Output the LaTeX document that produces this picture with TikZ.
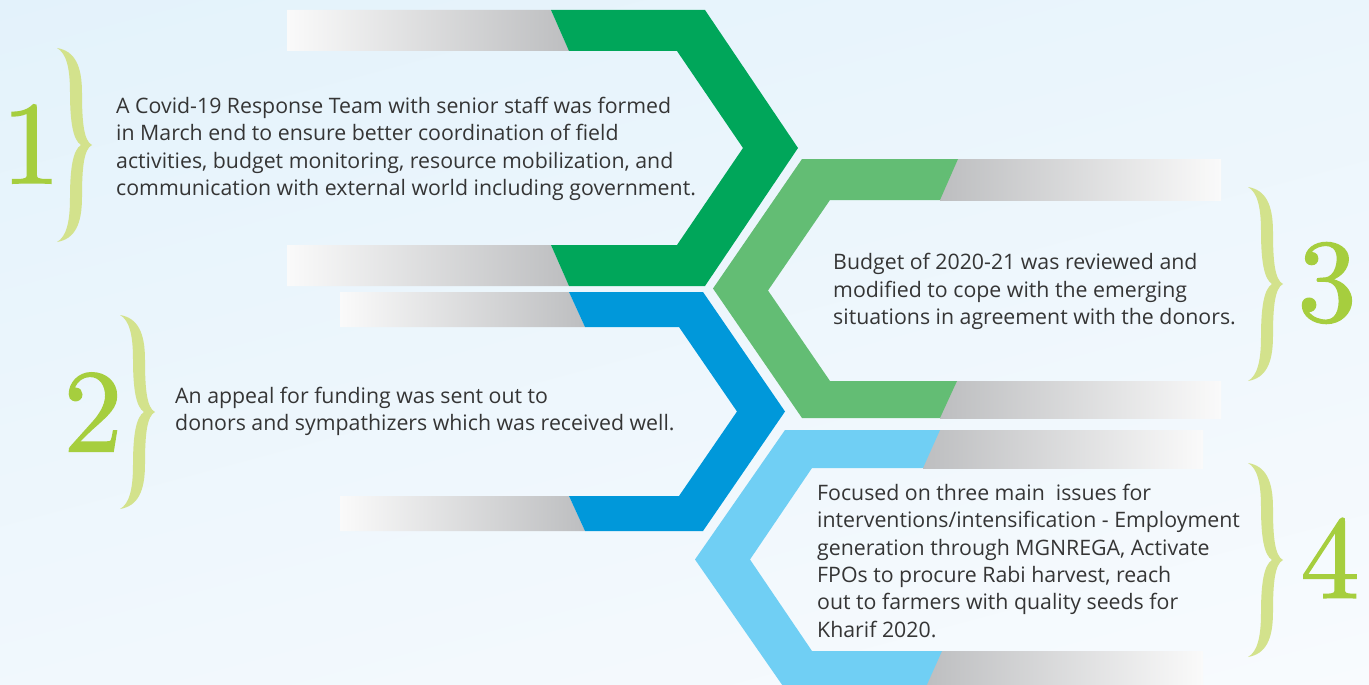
\documentclass[tikz,border=0pt]{standalone}
\usepackage{fontspec}
\newfontfamily\bodyfont{Open Sans}
\newfontfamily\numfont{lmroman10-regular.otf}[FakeBold=1.2]
\definecolor{cgreen}{HTML}{00A65A}
\definecolor{cblue}{HTML}{0098DA}
\definecolor{clgreen}{HTML}{63BD74}
\definecolor{clblue}{HTML}{70CFF4}
\definecolor{cbrace}{HTML}{D3E28C}
\definecolor{cnum}{HTML}{A6CE3E}
\definecolor{ctext}{HTML}{353535}
\definecolor{bgtop}{HTML}{E3F2FB}
\definecolor{bgbot}{HTML}{F8FBFE}
\definecolor{barhi}{HTML}{FAFAFA}
\definecolor{barlo}{HTML}{BDBEC0}
\tikzset{
  barleft/.style={left color=barhi,right color=barlo},
  barright/.style={left color=barlo,right color=barhi},
  txt/.style={anchor=north west,inner sep=0pt,align=left,text=ctext,font=\bodyfont\fontsize{21.3}{27.4}\selectfont},
  numst/.style={text=cnum,inner sep=0pt,font=\numfont\fontsize{118}{118}\selectfont},
  bracepic/.pic={
    \fill[cbrace] (0,0) .. controls (18,3) and (25,18) .. (25,45)
      .. controls (25,75) and (27,93) .. (35,97)
      .. controls (27,101) and (25,119) .. (25,149)
      .. controls (25,176) and (18,191) .. (0,194)
      .. controls (9,189) and (13,175) .. (13,150)
      .. controls (13,120) and (16,102) .. (24,97)
      .. controls (16,92) and (13,74) .. (13,44)
      .. controls (13,19) and (9,5) .. (0,0) -- cycle;
  }
}
\begin{document}
\begin{tikzpicture}[x=1pt,y=-1pt]
\useasboundingbox (0,0) rectangle (1369,685);
\clip (0,0) rectangle (1369,685);
\shade[top color=bgtop,bottom color=bgbot,shading angle=15] (-100,-100) rectangle (1469,785);

% ---- shape 1 (green, right pointing)
\shade[barleft] (287,10) -- (551,10) -- (569,51) -- (287,51) -- cycle;
\shade[barleft] (287,245) -- (551,245) -- (569,286) -- (287,286) -- cycle;
\fill[cgreen] (551,10) -- (705,10) -- (798,148) -- (705,286) -- (569,286) -- (551,245)
  -- (677,245) -- (743,148) -- (677,51) -- (569,51) -- cycle;

% ---- shape 2 (blue, right pointing)
\shade[barleft] (340,292) -- (569,292) -- (585,327) -- (340,327) -- cycle;
\shade[barleft] (340,496) -- (569,496) -- (585,531) -- (340,531) -- cycle;
\fill[cblue] (569,292) -- (703,292) -- (785,411.5) -- (703,531) -- (585,531) -- (569,496)
  -- (679,496) -- (737,411.5) -- (679,327) -- (585,327) -- cycle;

% ---- shape 3 (light green, left pointing)
\shade[barright] (940,159) -- (1221,159) -- (1221,200) -- (940,200) -- cycle;
\shade[barright] (940,381) -- (1221,381) -- (1221,418) -- (940,418) -- cycle;
\fill[clgreen] (958,159) -- (802,159) -- (713,288.5) -- (802,418) -- (940,418) -- (957,381)
  -- (830,381) -- (768,290.5) -- (830,200) -- (940,200) -- cycle;

% ---- shape 4 (light blue, left pointing)
\shade[barright] (923,430) -- (1203,430) -- (1203,468) -- (923,468) -- cycle;
\shade[barright] (925,651) -- (1203,651) -- (1203,689) -- (925,689) -- cycle;
\fill[clblue] (940,430) -- (785,430) -- (695,559.5) -- (785,689) -- (925,689) -- (942,651)
  -- (812,651) -- (750,559.5) -- (812,468) -- (923,468) -- cycle;

% ---- braces
\pic at (57,48) {bracepic};
\pic at (120,315) {bracepic};
\pic at (1248,187) {bracepic};
\pic at (1248,463) {bracepic};

% ---- numbers
\node[numst] (n1) at (31,144) {1};
\node[numst] (n2) at (93,412) {2};
\node[numst] (n3) at (1327,283) {3};
\node[numst] (n4) at (1330,558) {4};

% ---- texts
\node[txt] (t1) at (116,96.8) {A Covid-19 Response Team with senior staff was formed\\in March end to ensure better coordination of field\\activities, budget monitoring, resource mobilization, and\\communication with external world including government.};
\node[txt] (t2) at (175,386.8) {An appeal for funding was sent out to\\donors and sympathizers which was received well.};
\node[txt] (t3) at (833,253.3) {Budget of 2020-21 was reviewed and\\modified to cope with the emerging\\situations in agreement with the donors.};
\node[txt] (t4) at (817,483.8) {Focused on three main~ issues for\\interventions/intensification - Employment\\generation through MGNREGA, Activate\\FPOs to procure Rabi harvest, reach\\out to farmers with quality seeds for\\Kharif 2020.};
\end{tikzpicture}
\end{document}
